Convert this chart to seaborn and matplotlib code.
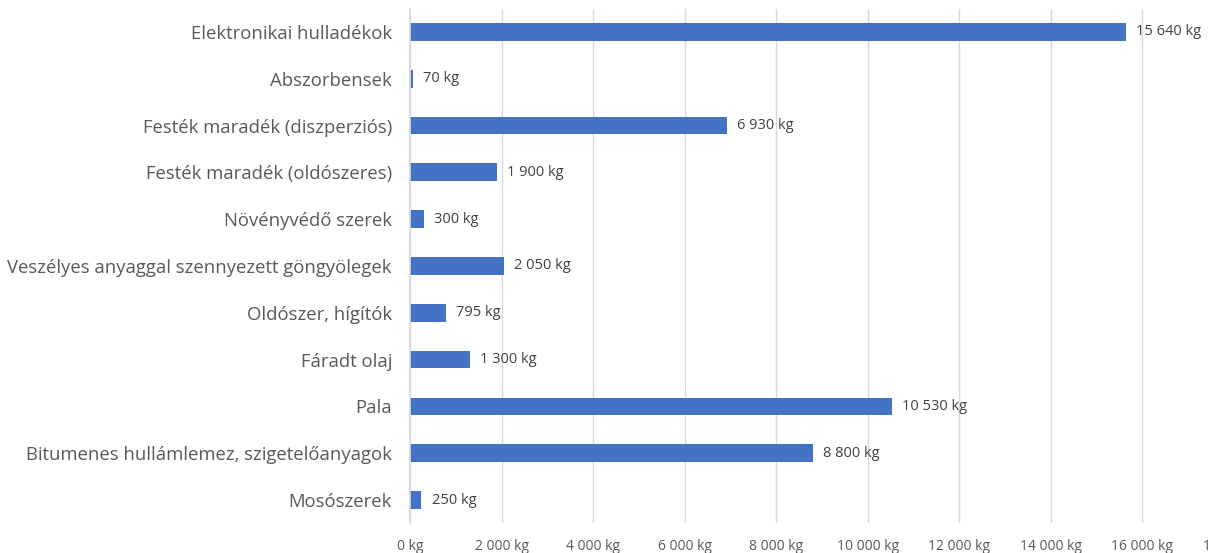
import pandas as pd
import seaborn as sns
import matplotlib.pyplot as plt
from matplotlib.ticker import FuncFormatter

categories = [
    "Elektronikai hulladékok",
    "Abszorbensek",
    "Festék maradék (diszperziós)",
    "Festék maradék (oldószeres)",
    "Növényvédő szerek",
    "Veszélyes anyaggal szennyezett göngyölegek",
    "Oldószer, hígítók",
    "Fáradt olaj",
    "Pala",
    "Bitumenes hullámlemez, szigetelőanyagok",
    "Mosószerek",
]
amounts = [15640, 70, 6930, 1900, 300, 2050, 795, 1300, 10530, 8800, 250]


def kg(v, pos=None):
    return f"{int(v):,} kg".replace(",", " ")


df = pd.DataFrame({"kategoria": categories, "mennyiseg": amounts})

sns.set_theme(style="white")
plt.rcParams["font.family"] = ["Open Sans", "DejaVu Sans"]

fig = plt.figure(figsize=(12.08, 5.53), dpi=100)
ax = fig.add_axes([0.3394, 0.0535, 0.6821, 0.931])

sns.barplot(data=df, x="mennyiseg", y="kategoria", orient="h",
            color="#4472C4", saturation=1, width=0.38, linewidth=0, ax=ax)

ax.set_xlim(0, 18000)
ax.set_xticks(range(0, 18001, 2000))
ax.xaxis.set_major_formatter(FuncFormatter(kg))
ax.grid(axis="x", color="#D9D9D9", linewidth=1)
ax.set_axisbelow(True)
ax.set_xlabel("")
ax.set_ylabel("")

for side in ["top", "right", "bottom"]:
    ax.spines[side].set_visible(False)
ax.spines["left"].set_color("#D9D9D9")

ax.tick_params(axis="y", length=0, pad=13, labelsize=13.3, labelcolor="#595959")
ax.tick_params(axis="x", length=0, pad=11, labelsize=10, labelcolor="#595959")

for i, v in enumerate(amounts):
    ax.text(v + 220, i, kg(v), va="center", ha="left", fontsize=10.5, color="#404040")

fig.savefig("out.png", dpi=100)
